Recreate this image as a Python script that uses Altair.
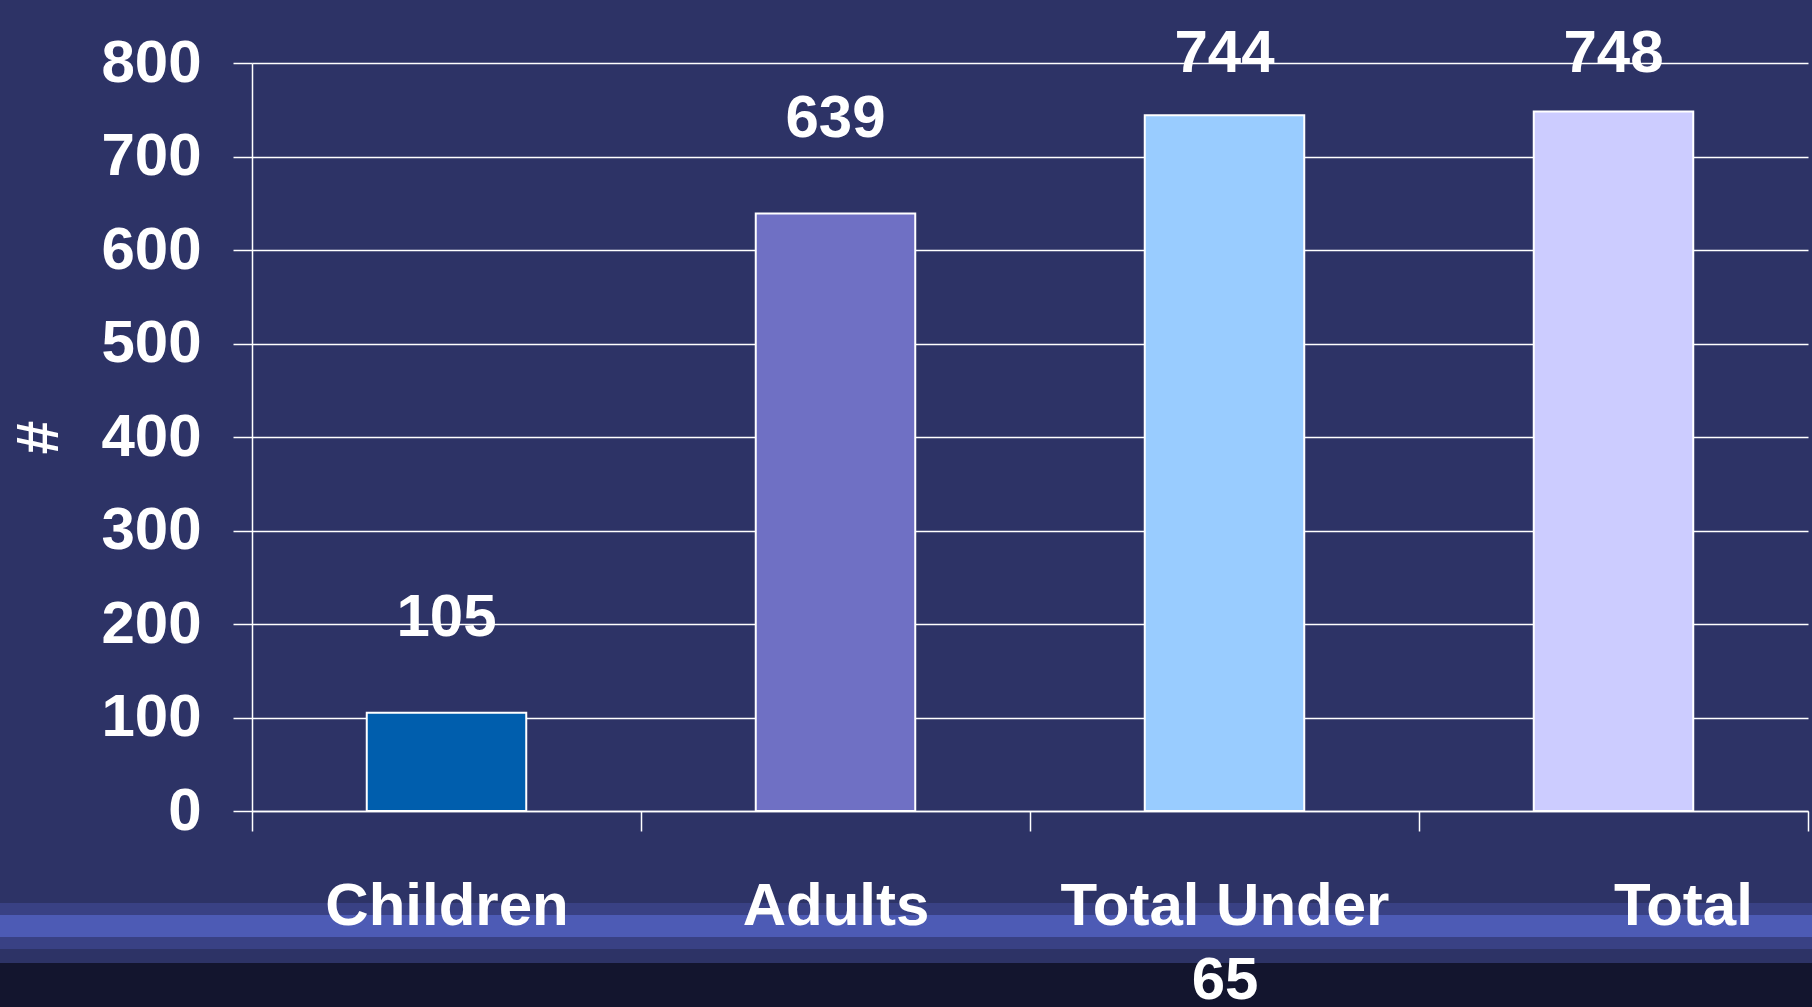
import altair as alt
import pandas as pd

categories = ["Children", "Adults", "Total Under 65", "Total"]
values = [105, 639, 744, 748]
bar_colors = ["#005EAD", "#6F70C4", "#99CCFF", "#CCCCFF"]
y_ticks = [0, 100, 200, 300, 400, 500, 600, 700, 800]

df = pd.DataFrame({"category": categories, "value": values})

FONT = "Liberation Sans"

x_enc = alt.X(
    "category:N",
    sort=categories,
    scale=alt.Scale(paddingInner=0, paddingOuter=0),
    axis=alt.Axis(
        title=None,
        labelExpr="datum.label == 'Total Under 65' ? ['Total Under', '65'] : datum.label",
        labelAngle=0,
        labelAlign={"condition": {"test": "datum.value == 'Total'", "value": "left"}, "value": "center"},
        labelFont=FONT,
        labelFontWeight="bold",
        labelFontSize=60,
        labelColor="white",
        labelBaseline="top",
        labelPadding=46,
        labelLineHeight=74,
        labelLimit=600,
        tickBand="extent",
        tickColor="white",
        tickSize=20,
        tickWidth=1.5,
        domainColor="white",
        domainWidth=1.5,
        zindex=1,
    ),
)

y_enc = alt.Y(
    "value:Q",
    scale=alt.Scale(domain=[0, 800], nice=False),
    axis=alt.Axis(
        title="#",
        titleFont=FONT,
        titleFontWeight="bold",
        titleFontSize=60,
        titleColor="white",
        titleAngle=-90,
        titleAlign="center",
        titleBaseline="middle",
        titleX=-213,
        titleY=374,
        values=y_ticks,
        labelFont=FONT,
        labelFontWeight="bold",
        labelFontSize=60,
        labelColor="white",
        labelPadding=32,
        labelBaseline="middle",
        tickColor="white",
        tickSize=19,
        tickWidth=1.5,
        grid=True,
        gridColor="white",
        gridWidth=1.5,
        domainColor="white",
        domainWidth=1.5,
    ),
)

band_dark = alt.Chart(df).mark_rect(color="#13152E").encode(
    x=alt.value(-252), x2=alt.value(1560), y=alt.value(900), y2=alt.value(944)
)
band_light = alt.Chart(df).mark_rect(color="#5360C0", opacity=0.35).encode(
    x=alt.value(-252), x2=alt.value(1560), y=alt.value(852), y2=alt.value(874)
)
band_faint = alt.Chart(df).mark_rect(color="#3E4894", opacity=0.25).encode(
    x=alt.value(-252), x2=alt.value(1560), y=alt.value(840), y2=alt.value(886)
)

bars = alt.Chart(df).mark_bar(
    stroke="white", strokeWidth=2, width=alt.RelativeBandSize(0.41)
).encode(
    x=x_enc,
    y=y_enc,
    color=alt.Color(
        "category:N",
        scale=alt.Scale(domain=categories, range=bar_colors),
        legend=None,
    ),
)

labels = alt.Chart(df).transform_calculate(
    label_pos="min(datum.value + 82, 790)"
).mark_text(
    font=FONT,
    fontWeight="bold",
    fontSize=60,
    color="white",
    baseline="alphabetic",
).encode(
    x=alt.X("category:N", sort=categories),
    y=alt.Y("label_pos:Q"),
    text=alt.Text("value:Q"),
)

chart = (
    alt.layer(band_faint, band_light, band_dark, bars, labels)
    .properties(
        width=1556,
        height=748,
        background="#2D3366",
        padding={"left": 252, "top": 63, "right": 4, "bottom": 196},
        autosize=alt.AutoSizeParams(type="none"),
    )
    .configure_view(stroke=None)
)

chart.save("out.html", embed_options={"renderer": "svg", "actions": False})
